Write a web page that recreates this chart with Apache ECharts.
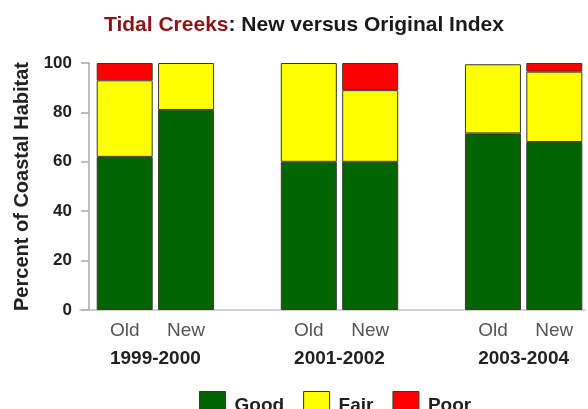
<!DOCTYPE html>
<html>
<head>
<meta charset="utf-8">
<script src="https://cdn.jsdelivr.net/npm/echarts@6/dist/echarts.min.js"></script>
<style>
  html, body { margin: 0; padding: 0; background: #fff; }
  #chart { width: 588px; height: 409px; }
</style>
</head>
<body>
<div id="chart"></div>
<script>
// Bar slots: Old/New pairs per period, with an empty slot between periods
const slotLabels = ['Old', 'New', '', 'Old', 'New', '', 'Old', 'New'];
// Period labels sit on the boundary between each Old/New pair
const periodLabels = ['', '1999-2000', '', '', '2001-2002', '', '', '2003-2004', ''];
const yTicks = [0, 20, 40, 60, 80, 100];

// Percent of coastal habitat by condition class
const good = [62, 81, '-', 60, 60, '-', 71.5, 68];
const fair = [31, 19, '-', 40, 29, '-', 28, 28.5];
const poor = [7, '-', '-', '-', 11, '-', '-', 3.5];

const FONT = 'Liberation Sans, Arial, sans-serif';
const chart = echarts.init(document.getElementById('chart'));

function barSeries(name, data, color) {
  return {
    name: name,
    type: 'bar',
    stack: 'total',
    data: data,
    barWidth: 56,
    itemStyle: { color: color, borderColor: '#3a3a2a', borderWidth: 1 },
    emphasis: { disabled: true }
  };
}

chart.setOption({
  animation: false,
  textStyle: { fontFamily: FONT },
  title: {
    left: 99,
    top: 10,
    text: '{a|Tidal Creeks}{b|: New versus Original Index}',
    textStyle: {
      rich: {
        a: { color: '#8b1414', fontSize: 21, fontWeight: 'bold', fontFamily: FONT },
        b: { color: '#1a1a1a', fontSize: 21, fontWeight: 'bold', fontFamily: FONT }
      }
    }
  },
  legend: {
    top: 386,
    left: 194,
    itemWidth: 26,
    itemHeight: 28,
    itemGap: 19,
    icon: 'rect',
    data: ['Good', 'Fair', 'Poor'],
    textStyle: { fontSize: 19, fontWeight: 'bold', color: '#222', fontFamily: FONT, padding: [0, 0, 0, 4] },
    itemStyle: { borderColor: '#3a3a2a', borderWidth: 1 },
    selectedMode: false
  },
  grid: [
    { left: 94, width: 499, top: 63, bottom: 99 },
    { left: 80, width: 20, top: 63, bottom: 99 }
  ],
  xAxis: [
    {
      type: 'category',
      gridIndex: 0,
      data: slotLabels,
      axisLine: { lineStyle: { color: '#c4c4c4', width: 1.5 } },
      axisTick: { show: false },
      axisLabel: { color: '#555', fontSize: 19, margin: 11, fontFamily: FONT, interval: 0 }
    },
    {
      type: 'category',
      gridIndex: 0,
      position: 'bottom',
      boundaryGap: false,
      data: periodLabels,
      axisLine: { show: false },
      axisTick: { show: false },
      axisLabel: { color: '#222', fontSize: 19, fontWeight: 'bold', margin: 39, fontFamily: FONT, interval: 0 }
    },
    {
      type: 'category',
      gridIndex: 1,
      data: [''],
      axisLine: { lineStyle: { color: '#c4c4c4', width: 1.5 } },
      axisTick: { show: false },
      axisLabel: { show: false }
    }
  ],
  yAxis: [
    {
      type: 'value',
      gridIndex: 0,
      min: yTicks[0],
      max: yTicks[yTicks.length - 1],
      interval: 20,
      offset: 5,
      name: 'Percent of Coastal Habitat',
      nameLocation: 'middle',
      nameGap: 57,
      nameTextStyle: { fontSize: 20, fontWeight: 'bold', color: '#222', fontFamily: FONT },
      axisLine: { show: true, lineStyle: { color: '#aaa', width: 1.5 } },
      axisTick: { show: true, length: 8, lineStyle: { color: '#aaa', width: 1.5 } },
      axisLabel: { fontSize: 17, fontWeight: 'bold', color: '#222', margin: 17, fontFamily: FONT },
      splitLine: { show: false }
    },
    { type: 'value', gridIndex: 1, show: false, min: 0, max: 100 }
  ],
  series: [
    barSeries('Good', good, '#006400'),
    barSeries('Fair', fair, '#ffff00'),
    barSeries('Poor', poor, '#ff0000')
  ]
});
</script>
</body>
</html>
